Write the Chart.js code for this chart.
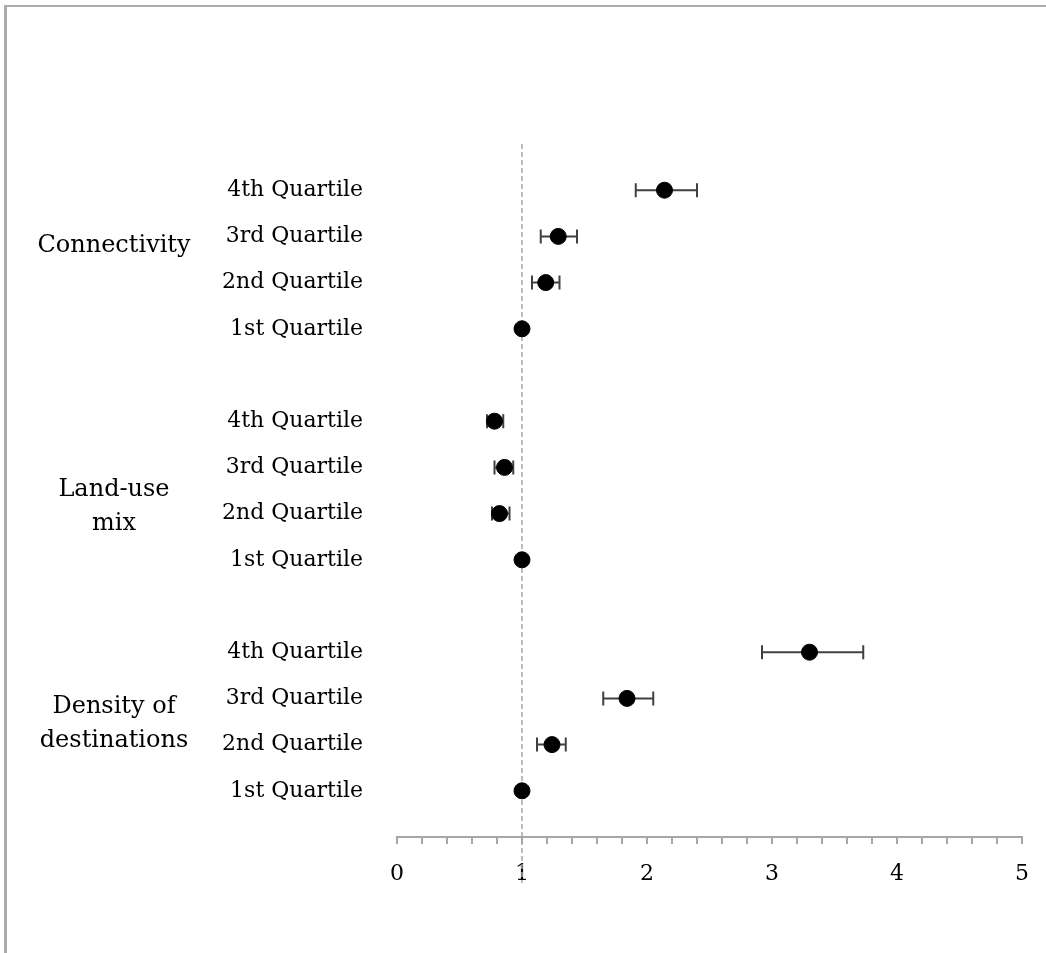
<!DOCTYPE html>
<html>
<head>
<meta charset="utf-8">
<script src="https://cdn.jsdelivr.net/npm/chart.js@4"></script>
<style>
    html, body { margin: 0; padding: 0; background: #fff; }
    #frame {
        position: absolute; left: 4px; top: 5px; width: 1100px; height: 1000px;
        border-left: 3px solid #ababab; border-top: 2px solid #ababab;
    }
    #wrap { position: absolute; left: 0; top: 0; width: 1046px; height: 953px; }
</style>
</head>
<body>
<div id="frame"></div>
<div id="wrap"><canvas id="orChart" width="1046" height="953"></canvas></div>
<script>
// groups and the quartile rows inside each group (top to bottom)
const groups = [['Connectivity'], ['Land-use', 'mix'], ['Density of', 'destinations']];
const quartiles = ['4th Quartile', '3rd Quartile', '2nd Quartile', '1st Quartile'];

// odds ratios with lower / upper bounds, per group, in quartile order
const connectivityOR    = [2.14, 1.29, 1.19, 1.0];
const connectivityLow   = [1.91, 1.15, 1.08, 1.0];
const connectivityHigh  = [2.40, 1.44, 1.30, 1.0];

const landUseOR         = [0.78, 0.86, 0.82, 1.0];
const landUseLow        = [0.72, 0.78, 0.76, 1.0];
const landUseHigh       = [0.85, 0.93, 0.90, 1.0];

const densityOR         = [3.30, 1.84, 1.24, 1.0];
const densityLow        = [2.92, 1.65, 1.12, 1.0];
const densityHigh       = [3.73, 2.05, 1.35, 1.0];

const xTicks = [0, 1, 2, 3, 4, 5];

const seriesOR = [connectivityOR, landUseOR, densityOR];
const seriesLow = [connectivityLow, landUseLow, densityLow];
const seriesHigh = [connectivityHigh, landUseHigh, densityHigh];

// one row per quartile, a blank row between groups
const points = [];
const rowLabels = {};
seriesOR.forEach(function(vals, g) {
    vals.forEach(function(v, q) {
        const row = g * 5 + q;
        rowLabels[row] = quartiles[q];
        points.push({ x: v, y: row, lo: seriesLow[g][q], hi: seriesHigh[g][q] });
    });
});
const rowTicks = Object.keys(rowLabels).map(Number);
// vertical position of each group's label, in row units
const groupCentre = [1.2, 6.85, 11.55];

const FONT = 'DejaVu Serif';

const extrasPlugin = {
    id: 'extras',
    beforeDatasetsDraw(chart) {
        const ctx = chart.ctx;
        const xs = chart.scales.x, ys = chart.scales.y;
        const area = chart.chartArea;

        // dashed reference line at OR = 1
        const x1 = xs.getPixelForValue(1);
        ctx.save();
        ctx.strokeStyle = '#a6a6a6';
        ctx.lineWidth = 1.5;
        ctx.setLineDash([5, 3]);
        ctx.beginPath();
        ctx.moveTo(x1, area.top);
        ctx.lineTo(x1, area.bottom + 46);
        ctx.stroke();
        ctx.restore();

        // error bars
        ctx.save();
        ctx.strokeStyle = '#404040';
        ctx.lineWidth = 2;
        points.forEach(function(p) {
            if (p.hi - p.lo <= 0) return;
            const y = ys.getPixelForValue(p.y);
            const a = xs.getPixelForValue(p.lo), b = xs.getPixelForValue(p.hi);
            ctx.beginPath();
            ctx.moveTo(a, y); ctx.lineTo(b, y);
            ctx.moveTo(a, y - 7); ctx.lineTo(a, y + 7);
            ctx.moveTo(b, y - 7); ctx.lineTo(b, y + 7);
            ctx.stroke();
        });
        ctx.restore();
    },
    afterDraw(chart) {
        const ctx = chart.ctx;
        const ys = chart.scales.y;
        ctx.save();
        ctx.fillStyle = '#000';
        ctx.font = '24px "' + FONT + '"';
        ctx.textAlign = 'center';
        ctx.textBaseline = 'middle';
        groups.forEach(function(lines, g) {
            const yc = ys.getPixelForValue(groupCentre[g]);
            const lh = 34;
            lines.forEach(function(t, i) {
                ctx.fillText(t, 114, yc + (i - (lines.length - 1) / 2) * lh);
            });
        });
        ctx.restore();
    }
};

new Chart(document.getElementById('orChart').getContext('2d'), {
    type: 'scatter',
    data: {
        datasets: [{
            label: 'Odds ratio',
            data: points,
            backgroundColor: '#000',
            borderColor: '#000',
            pointRadius: 8,
            pointHoverRadius: 8
        }]
    },
    options: {
        responsive: false,
        animation: false,
        layout: { padding: { top: 144, right: 24, left: 0, bottom: 0 } },
        plugins: {
            legend: { display: false },
            tooltip: { enabled: false }
        },
        scales: {
            x: {
                type: 'linear',
                min: 0,
                max: 5,
                afterBuildTicks: function(scale) {
                    const t = [];
                    for (let i = 0; i <= 25; i++) t.push({ value: i / 5 });
                    scale.ticks = t;
                },
                afterFit: function(scale) { scale.height = 116; },
                border: { color: '#a6a6a6', width: 2 },
                grid: { drawOnChartArea: false, color: '#a6a6a6', lineWidth: 2, tickLength: 7 },
                ticks: {
                    autoSkip: false,
                    maxRotation: 0,
                    padding: 17,
                    color: '#000',
                    font: { family: FONT, size: 22 },
                    callback: function(v) {
                        const r = Math.round(v);
                        return (Math.abs(v - r) < 1e-6 && xTicks.includes(r)) ? String(r) : '';
                    }
                }
            },
            y: {
                type: 'linear',
                reverse: true,
                min: -1,
                max: 14,
                afterBuildTicks: function(scale) {
                    scale.ticks = rowTicks.map(function(v) { return { value: v }; });
                },
                afterFit: function(scale) { scale.width = 397; },
                border: { display: false },
                grid: { display: false, drawTicks: false },
                ticks: {
                    autoSkip: false,
                    padding: 34,
                    color: '#000',
                    font: { family: FONT, size: 22 },
                    callback: function(v) { return rowLabels[v] || ''; }
                }
            }
        }
    },
    plugins: [extrasPlugin]
});
</script>
</body>
</html>
